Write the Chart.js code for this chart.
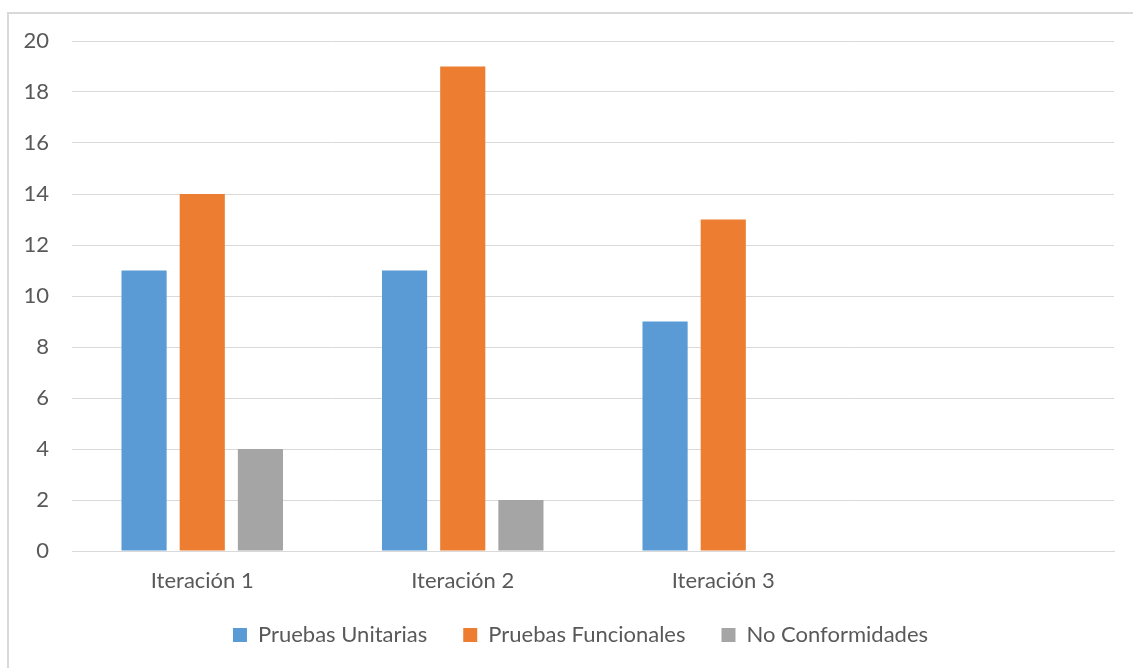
<!DOCTYPE html>
<html>
<head>
<meta charset="utf-8">
<script src="https://cdn.jsdelivr.net/npm/chart.js@4"></script>
<style>
  html, body { margin: 0; padding: 0; background: #fff; overflow: hidden; }
  #frame {
    position: absolute; left: 7px; top: 12px;
    width: 1126px; height: 656px;
    border-top: 2px solid #d9d9d9; border-left: 2px solid #d9d9d9;
  }
  #wrap { position: relative; width: 1126px; height: 656px; }
</style>
</head>
<body>
<div id="frame"><div id="wrap"><canvas id="pruebasChart"></canvas></div></div>
<script>
// categorias (la cuarta va vacia, como en el original)
const iteraciones = ["Iteración 1", "Iteración 2", "Iteración 3", ""];
const pruebasUnitarias = [11, 11, 9, null];
const pruebasFuncionales = [14, 19, 13, null];
const noConformidades = [4, 2, null, null];
const yTicks = [0, 2, 4, 6, 8, 10, 12, 14, 16, 18, 20];

const FONT = "Lato, 'Open Sans', sans-serif";

// fija la altura de la leyenda y la centra bajo el area del grafico
const legendFix = {
  id: 'legendFix',
  beforeInit(chart) {
    const lg = chart.legend;
    const origFit = lg.fit;
    lg.fit = function () {
      origFit.call(this);
      this.height = 82;
    };
  },
  afterLayout(chart) {
    chart.legend.left += 19;
    chart.legend.right += 19;
  }
};

new Chart(document.getElementById("pruebasChart"), {
  type: 'bar',
  data: {
    labels: iteraciones,
    datasets: [
      { label: "Pruebas Unitarias", backgroundColor: "#5b9bd5", data: pruebasUnitarias },
      { label: "Pruebas Funcionales", backgroundColor: "#ed7d31", data: pruebasFuncionales },
      { label: "No Conformidades", backgroundColor: "#a5a5a5", data: noConformidades }
    ]
  },
  plugins: [legendFix],
  options: {
    responsive: true,
    maintainAspectRatio: false,
    animation: false,
    categoryPercentage: 0.67,
    barPercentage: 0.776,
    layout: { padding: { top: 27, right: 21, left: 0, bottom: 0 } },
    plugins: {
      tooltip: { enabled: false },
      legend: {
        position: 'bottom',
        labels: {
          color: '#595959',
          font: { family: FONT, size: 22 },
          boxWidth: 14, boxHeight: 14,
          padding: 36
        }
      }
    },
    scales: {
      x: {
        afterFit: s => { s.height = 37; },
        grid: { display: false, drawTicks: false },
        border: { display: true, color: '#d9d9d9', width: 1 },
        ticks: { color: '#595959', font: { family: FONT, size: 22 }, padding: 17, maxRotation: 0 }
      },
      y: {
        min: 0, max: 20,
        afterBuildTicks: s => { s.ticks = yTicks.map(v => ({ value: v })); },
        afterFit: s => { s.width = 63; s.paddingTop = 0; s.paddingBottom = 0; },
        grid: { color: '#d9d9d9', lineWidth: 1, drawTicks: false },
        border: { display: false },
        ticks: { color: '#595959', font: { family: FONT, size: 22 }, padding: 23 }
      }
    }
  }
});
</script>
</body>
</html>
